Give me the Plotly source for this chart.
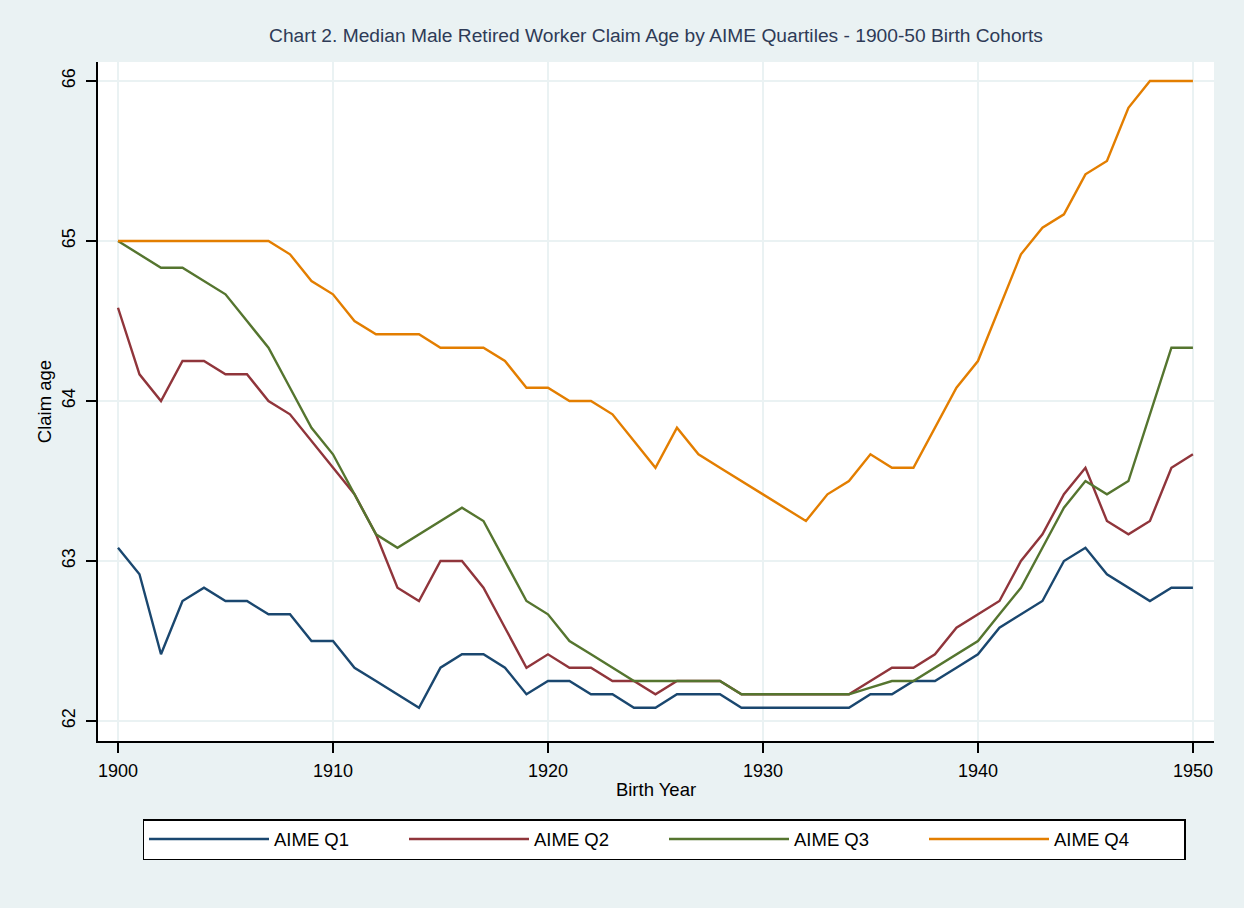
import plotly.graph_objects as go

years = list(range(1900, 1951))

q1 = [63.083, 62.917, 62.417, 62.75, 62.833, 62.75, 62.75, 62.667, 62.667, 62.5,
      62.5, 62.333, 62.25, 62.167, 62.083, 62.333, 62.417, 62.417, 62.333, 62.167,
      62.25, 62.25, 62.167, 62.167, 62.083, 62.083, 62.167, 62.167, 62.167, 62.083,
      62.083, 62.083, 62.083, 62.083, 62.083, 62.167, 62.167, 62.25, 62.25, 62.333,
      62.417, 62.583, 62.667, 62.75, 63.0, 63.083, 62.917, 62.833, 62.75, 62.833,
      62.833]
q2 = [64.583, 64.167, 64.0, 64.25, 64.25, 64.167, 64.167, 64.0, 63.917, 63.75,
      63.583, 63.417, 63.167, 62.833, 62.75, 63.0, 63.0, 62.833, 62.583, 62.333,
      62.417, 62.333, 62.333, 62.25, 62.25, 62.167, 62.25, 62.25, 62.25, 62.167,
      62.167, 62.167, 62.167, 62.167, 62.167, 62.25, 62.333, 62.333, 62.417, 62.583,
      62.667, 62.75, 63.0, 63.167, 63.417, 63.583, 63.25, 63.167, 63.25, 63.583,
      63.667]
q3 = [65.0, 64.917, 64.833, 64.833, 64.75, 64.667, 64.5, 64.333, 64.083, 63.833,
      63.667, 63.417, 63.167, 63.083, 63.167, 63.25, 63.333, 63.25, 63.0, 62.75,
      62.667, 62.5, 62.417, 62.333, 62.25, 62.25, 62.25, 62.25, 62.25, 62.167,
      62.167, 62.167, 62.167, 62.167, 62.167, 62.208, 62.25, 62.25, 62.333, 62.417,
      62.5, 62.667, 62.833, 63.083, 63.333, 63.5, 63.417, 63.5, 63.917, 64.333,
      64.333]
q4 = [65.0, 65.0, 65.0, 65.0, 65.0, 65.0, 65.0, 65.0, 64.917, 64.75,
      64.667, 64.5, 64.417, 64.417, 64.417, 64.333, 64.333, 64.333, 64.25, 64.083,
      64.083, 64.0, 64.0, 63.917, 63.75, 63.583, 63.833, 63.667, 63.583, 63.5,
      63.417, 63.333, 63.25, 63.417, 63.5, 63.667, 63.583, 63.583, 63.833, 64.083,
      64.25, 64.583, 64.917, 65.083, 65.167, 65.417, 65.5, 65.833, 66.0, 66.0,
      66.0]

series_names = ["AIME Q1", "AIME Q2", "AIME Q3", "AIME Q4"]
series_colors = ["#1a476f", "#90353b", "#55752f", "#e37e00"]
x_ticks = [1900, 1910, 1920, 1930, 1940, 1950]
y_ticks = [62, 63, 64, 65, 66]

BG = "#eaf2f3"
FONT = "Liberation Sans, Arial, sans-serif"

fig = go.Figure()
for name, vals, col in zip(series_names, [q1, q2, q3, q4], series_colors):
    fig.add_trace(go.Scatter(x=years, y=vals, mode="lines", name=name,
                             line=dict(color=col, width=2.4)))

fig.update_layout(
    width=1244, height=908,
    paper_bgcolor=BG, plot_bgcolor="white",
    margin=dict(l=98, r=30, t=62, b=167),
    font=dict(family=FONT, size=18, color="#000000"),
    title=dict(text="Chart 2. Median Male Retired Worker Claim Age by AIME Quartiles - 1900-50 Birth Cohorts",
               xref="paper", x=0.5, xanchor="center", y=1 - 35/908, yanchor="middle",
               font=dict(size=19.2, color="#2e3b57")),
    xaxis=dict(range=[1899.07, 1950.98], tickvals=x_ticks, showgrid=True,
               gridcolor=BG, gridwidth=2, zeroline=False,
               showline=True, linecolor="black", linewidth=1.5,
               ticks="outside", ticklen=10, tickcolor="black", tickwidth=1.5,
               ticklabelstandoff=3,
               title=dict(text="Birth Year", standoff=3, font=dict(size=18.5)),
               tickfont=dict(size=18)),
    yaxis=dict(range=[61.875, 66.119], tickvals=y_ticks, showgrid=True,
               gridcolor=BG, gridwidth=2, zeroline=False,
               showline=True, linecolor="black", linewidth=1.5,
               ticks="outside", ticklen=10, tickcolor="black", tickwidth=1.5,
               tickangle=-90, ticklabelstandoff=4,
               title=dict(text="Claim age", standoff=3, font=dict(size=18.5)),
               tickfont=dict(size=18)),
    legend=dict(orientation="h", x=0.5 + 8/1116, xanchor="center", y=-0.1149, yanchor="top",
                bgcolor="white", bordercolor="black", borderwidth=1.5,
                font=dict(size=18.5), itemwidth=120, entrywidth=125,
                traceorder="normal"),
    showlegend=True,
)

fig.write_html("out.html", config={"displayModeBar": False},
               post_script="document.body.style.margin='0';document.body.style.background='#eaf2f3';")
